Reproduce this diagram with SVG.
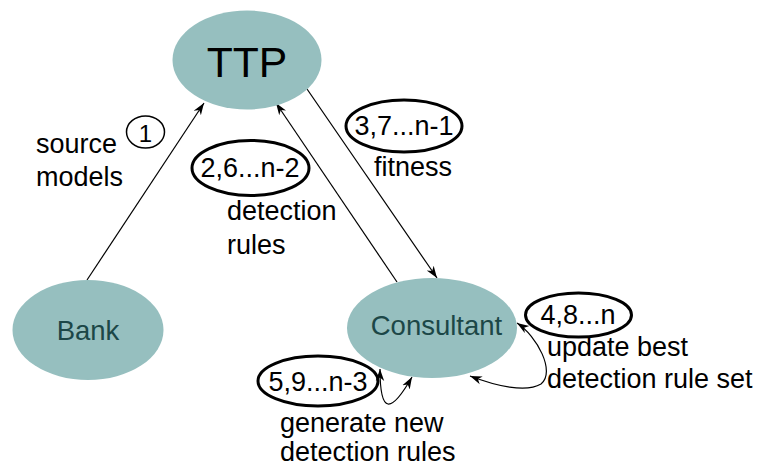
<svg xmlns="http://www.w3.org/2000/svg" width="762" height="466" viewBox="0 0 762 466">
<defs>
<marker id="ah" markerUnits="userSpaceOnUse" markerWidth="14" markerHeight="10" refX="12" refY="5" orient="auto-start-reverse" viewBox="0 0 14 10">
<path d="M0,0.8 L12,5 L0,9.2 L3.5,5 Z" fill="#000"/>
</marker>
<style>
.node{fill:#96bfbf;stroke:none}
.nt{font-family:"Liberation Sans",Arial,sans-serif;fill:#1c4747;text-anchor:middle}
.lbl{font-family:"Liberation Sans",Arial,sans-serif;font-size:27px;fill:#000}
.tag{fill:none;stroke:#000;stroke-width:3}
.conn{fill:none;stroke:#000;stroke-width:1.2}
</style>
</defs>
<rect width="762" height="466" fill="#fff"/>
<g id="connectors">
<line class="conn" x1="87" y1="280" x2="204" y2="103" marker-end="url(#ah)"/>
<line class="conn" x1="397" y1="282" x2="276" y2="103" marker-end="url(#ah)"/>
<line class="conn" x1="307" y1="89" x2="437" y2="278" marker-end="url(#ah)"/>
<path class="conn" d="M517,323 C537,336 556,372 541,384 C526,393 496,386 470,376" marker-start="url(#ah)" marker-end="url(#ah)"/>
<path class="conn" d="M380,369 C380,386 382,403 388,404 C395,405 404,391 412,377" marker-start="url(#ah)" marker-end="url(#ah)"/>
</g>
<g id="TTP">
<ellipse class="node" cx="247" cy="60" rx="74.5" ry="49.5"/>
<text x="247" y="77" font-family="Liberation Sans, Arial, sans-serif" font-size="42.7" text-anchor="middle" fill="#000">TTP</text>
</g>
<g id="Bank">
<ellipse class="node" cx="88" cy="330" rx="75.5" ry="50"/>
<text class="nt" x="88" y="340" font-size="27.5">Bank</text>
</g>
<g id="Consultant">
<ellipse class="node" cx="432" cy="328" rx="85" ry="50"/>
<text class="nt" x="436.5" y="335" font-size="27.5">Consultant</text>
</g>
<g id="label-1">
<ellipse cx="145.5" cy="132" rx="19" ry="16" fill="none" stroke="#000" stroke-width="1.5"/>
<text x="145.5" y="141.5" font-family="Liberation Sans, Arial, sans-serif" font-size="24" text-anchor="middle">1</text>
<text class="lbl" x="36" y="153">source</text>
<text class="lbl" x="36" y="186">models</text>
</g>
<g id="label-2">
<ellipse class="tag" cx="250.5" cy="168" rx="58.5" ry="27.5"/>
<text class="lbl" x="250" y="177" text-anchor="middle">2,6...n-2</text>
<text class="lbl" x="227" y="220">detection</text>
<text class="lbl" x="227" y="254">rules</text>
</g>
<g id="label-3">
<ellipse class="tag" cx="404" cy="126" rx="58" ry="26"/>
<text class="lbl" x="404" y="135" text-anchor="middle">3,7...n-1</text>
<text class="lbl" x="374" y="176">fitness</text>
</g>
<g id="label-4">
<ellipse class="tag" cx="578.5" cy="315" rx="53" ry="22"/>
<text class="lbl" x="578" y="324" text-anchor="middle">4,8...n</text>
<text class="lbl" x="547" y="356">update best</text>
<text class="lbl" x="547" y="388">detection rule set</text>
</g>
<g id="label-5">
<ellipse class="tag" cx="318" cy="381" rx="60" ry="25"/>
<text class="lbl" x="318" y="391" text-anchor="middle">5,9...n-3</text>
<text class="lbl" x="280" y="432">generate new</text>
<text class="lbl" x="280" y="461">detection rules</text>
</g>
</svg>
